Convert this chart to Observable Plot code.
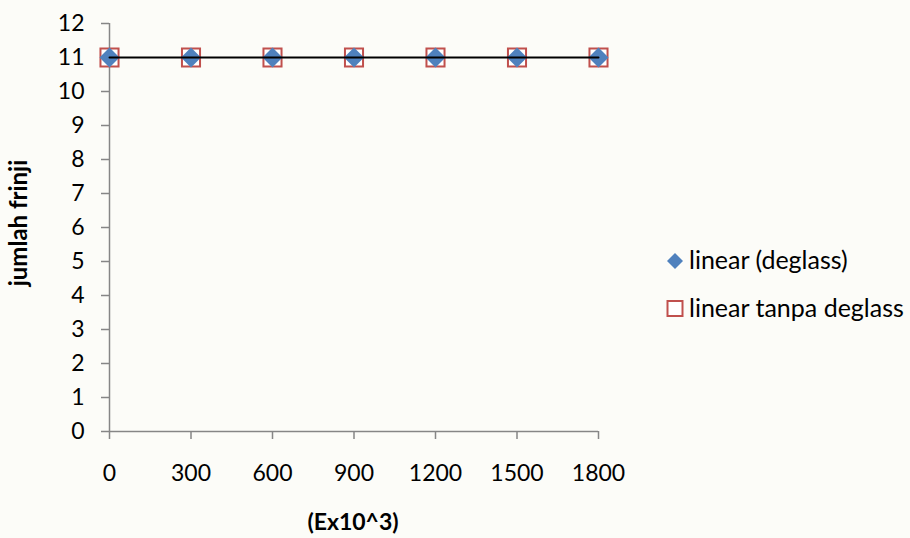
<!DOCTYPE html>
<html>
<head>
<meta charset="utf-8">
<script src="https://cdn.jsdelivr.net/npm/d3@7"></script>
<script src="https://cdn.jsdelivr.net/npm/@observablehq/plot@0.6"></script>
<style>
  html, body { margin: 0; padding: 0; background: #fcfcf8; }
  #wrap { position: relative; width: 910px; height: 538px; }
  #wrap svg text { font-family: Lato, "Open Sans", sans-serif; }
</style>
</head>
<body>
<div id="wrap"></div>
<script>
// Tegangan (Ex10^3) dan jumlah frinji untuk dua sampel
const tegangan = [0, 300, 600, 900, 1200, 1500, 1800];
const frinjiDeglass = [11, 11, 11, 11, 11, 11, 11];
const frinjiTanpaDeglass = [11, 11, 11, 11, 11, 11, 11];
const xTicks = [0, 300, 600, 900, 1200, 1500, 1800];
const yTicks = [0, 1, 2, 3, 4, 5, 6, 7, 8, 9, 10, 11, 12];
const seriesNames = ["linear (deglass)", "linear tanpa deglass"];

const blue = "#4f81bd";
const red = "#c0504d";
const axisGray = "#868686";

const dataA = tegangan.map((x, i) => ({x, y: frinjiDeglass[i]}));
const dataB = tegangan.map((x, i) => ({x, y: frinjiTanpaDeglass[i]}));

const chart = Plot.plot({
  width: 910,
  height: 538,
  marginLeft: 109,
  marginRight: 312,
  marginTop: 23,
  marginBottom: 107,
  style: {background: "transparent", color: "#000"},
  x: {domain: [0, 1800]},
  y: {domain: [0, 12]},
  marks: [
    Plot.ruleY([0], {stroke: axisGray, strokeWidth: 1.5}),
    Plot.ruleX([0], {stroke: axisGray, strokeWidth: 1.5}),
    Plot.axisY(yTicks, {tickSize: 8, tickPadding: 17, stroke: axisGray, fill: "#000", strokeWidth: 1.5, label: null, tickFormat: d => String(d)}),
    Plot.axisX(xTicks, {tickSize: 8, tickPadding: 25, stroke: axisGray, fill: "#000", strokeWidth: 1.5, label: null, tickFormat: d => String(d)}),
    Plot.dot(dataB, {x: "x", y: "y", symbol: "square", r: 10.2, fill: "white", stroke: red, strokeWidth: 2}),
    Plot.dot(dataA, {x: "x", y: "y", symbol: "diamond2", r: 9, fill: blue, stroke: "none"}),
    Plot.line(dataA, {x: "x", y: "y", stroke: "#000", strokeWidth: 2})
  ]
});

const svg = d3.select(chart);

// Label tick sumbu
svg.selectAll("text").style("font-size", "23px");

// Judul sumbu
svg.append("text")
  .attr("transform", "translate(27,223) rotate(-90)")
  .attr("text-anchor", "middle")
  .attr("font-weight", "bold")
  .style("font-size", "24px")
  .text("jumlah frinji");
svg.append("text")
  .attr("x", 353)
  .attr("y", 530)
  .attr("text-anchor", "middle")
  .attr("font-weight", "bold")
  .style("font-size", "23px")
  .text("(Ex10^3)");

// Legenda
const legend = svg.append("g").attr("text-anchor", "start").style("font-size", "25px");
const itemA = legend.append("g").attr("transform", "translate(675,261)");
itemA.append("path").attr("d", "M0,-8 L8,0 L0,8 L-8,0 Z").attr("fill", blue);
itemA.append("text").attr("x", 14).attr("y", 8).text(seriesNames[0]);
const itemB = legend.append("g").attr("transform", "translate(675,308.5)");
itemB.append("rect").attr("x", -7.5).attr("y", -7.5).attr("width", 15).attr("height", 15)
  .attr("fill", "white").attr("stroke", red).attr("stroke-width", 2);
itemB.append("text").attr("x", 14).attr("y", 8).text(seriesNames[1]);

document.getElementById("wrap").appendChild(chart);
</script>
</body>
</html>
